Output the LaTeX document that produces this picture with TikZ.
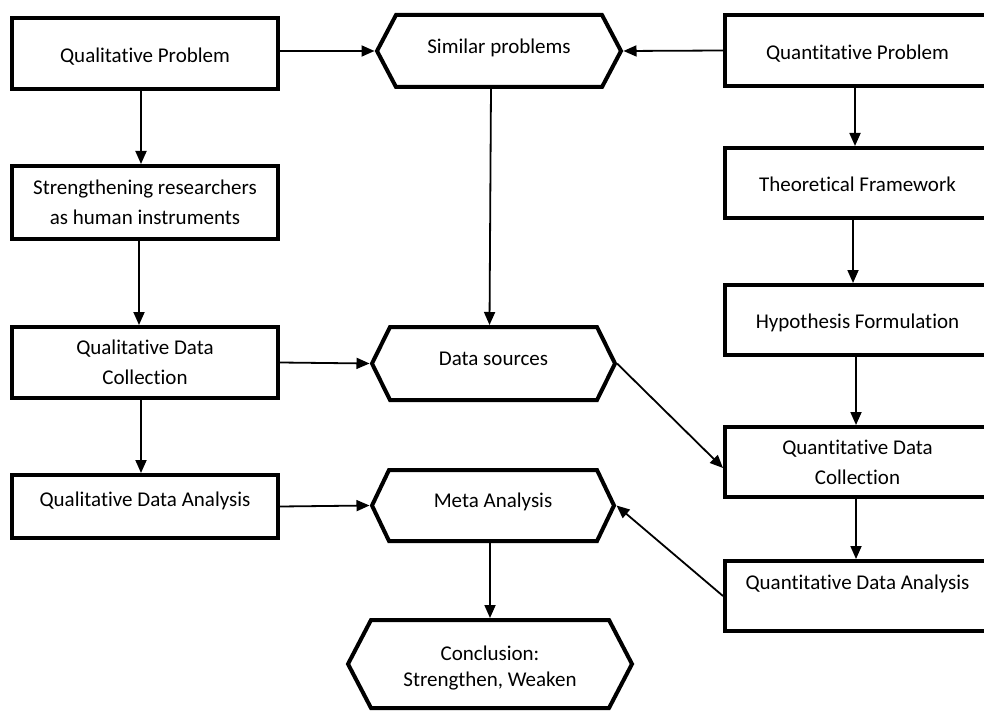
\documentclass[tikz,border=0pt]{standalone}
\usepackage{fontspec}
\setmainfont{Carlito}[Ligatures=NoCommon]
\usetikzlibrary{arrows.meta,calc}
\newcommand{\hexdraw}[2]{%
  \draw[hexline] (#1.west) -- ([xshift=#2]#1.north west) -- ([xshift=-#2]#1.north east) -- (#1.east) -- ([xshift=-#2]#1.south east) -- ([xshift=#2]#1.south west) -- cycle;}
\begin{document}
\begin{tikzpicture}[x=1pt,y=-1pt,
  txt/.style={font=\fontsize{21}{30}\selectfont, align=center, inner sep=0pt},
  oneline/.style={text height=22pt, text depth=4.4pt},
  boxnode/.style={txt, draw, line width=4pt},
  leftbox/.style={boxnode, minimum width=266pt},
  rightbox/.style={boxnode, minimum width=265pt, minimum height=70pt},
  hexnode/.style={txt, outer sep=0pt},
  hexline/.style={line width=4pt, line join=miter},
  conn/.style={-{Triangle[length=13pt,width=11pt]}, line width=1.8pt}
]
\useasboundingbox (0,0) rectangle (984,711);
\fill[white] (0,0) rectangle (984,711);
\clip (0,0) rectangle (984,711);

% left column
\node[leftbox, oneline, minimum height=71pt] (qualp) at (145,53.5) {Qualitative Problem};
\node[leftbox, minimum height=73pt] (strength) at (145,202.5) {Strengthening researchers\\as human instruments};
\node[leftbox, minimum height=71pt] (qualdc) at (145,362.5) {Qualitative Data\\Collection};
\node[leftbox, minimum height=63pt, text height=15pt, text depth=15.4pt] (qualda) at (145,506.5) {Qualitative Data Analysis};

% right column
\node[rightbox, oneline, minimum height=71pt] (quantp) at (857.5,50.5) {Quantitative Problem};
\node[rightbox, oneline] (tf) at (857.5,183) {Theoretical Framework};
\node[rightbox, oneline] (hf) at (857.5,320) {Hypothesis Formulation};
\node[rightbox] (qdc) at (857.5,462) {Quantitative Data\\Collection};
\node[rightbox, text height=15pt, text depth=28.4pt] (qda) at (857.5,596) {Quantitative Data Analysis};

% hexagons
\node[hexnode, text height=15pt, text depth=10.4pt, minimum width=244pt, minimum height=72pt] (sim) at (499,51) {Similar problems};
\node[hexnode, text height=15pt, text depth=10.4pt, minimum width=243pt, minimum height=73pt] (data) at (493.5,363.5) {Data sources};
\node[hexnode, text height=15pt, text depth=10.4pt, minimum width=242pt, minimum height=71pt] (meta) at (493,505.5) {Meta Analysis};
\node[hexnode, minimum width=284pt, minimum height=88pt] (concl) at (490,664) {};
\node[txt, font=\fontsize{21}{26}\selectfont] (concltext) at (490,668) {Conclusion:\\Strengthen, Weaken};
\hexdraw{sim}{19}
\hexdraw{data}{18}
\hexdraw{meta}{17}
\hexdraw{concl}{23}

% connectors
\draw[conn] (qualp.east |- sim.west) -- ([xshift=-2.5]sim.west);
\draw[conn] (quantp.west) -- ([xshift=2.5]sim.east);
\draw[conn] ([xshift=-4]qualp.south) -- ([xshift=-4]strength.north);
\draw[conn] ([xshift=-6]strength.south) -- ([xshift=-6]qualdc.north);
\draw[conn] ([xshift=-4]qualdc.south) -- ([xshift=-4]qualda.north);
\draw[conn] (qualdc.east) -- ([xshift=-2.5]data.west);
\draw[conn] ([xshift=-8]sim.south) -- ([xshift=-4,yshift=2]data.north);
\draw[conn] ([xshift=2]data.east) -- ([yshift=-6]qdc.west);
\draw[conn] (qualda.east) -- ([xshift=-2.5]meta.west);
\draw[conn] (qda.west) -- ([xshift=2.5]meta.east);
\draw[conn] ([xshift=-3]meta.south) -- ([yshift=2]concl.north);
\draw[conn] ([xshift=-2.5]quantp.south) -- ([xshift=-2.5]tf.north);
\draw[conn] ([xshift=-4.5]tf.south) -- ([xshift=-4.5]hf.north);
\draw[conn] ([xshift=-1.5]hf.south) -- ([xshift=-1.5]qdc.north);
\draw[conn] ([xshift=-1.5]qdc.south) -- ([xshift=-1.5]qda.north);
\end{tikzpicture}
\end{document}
